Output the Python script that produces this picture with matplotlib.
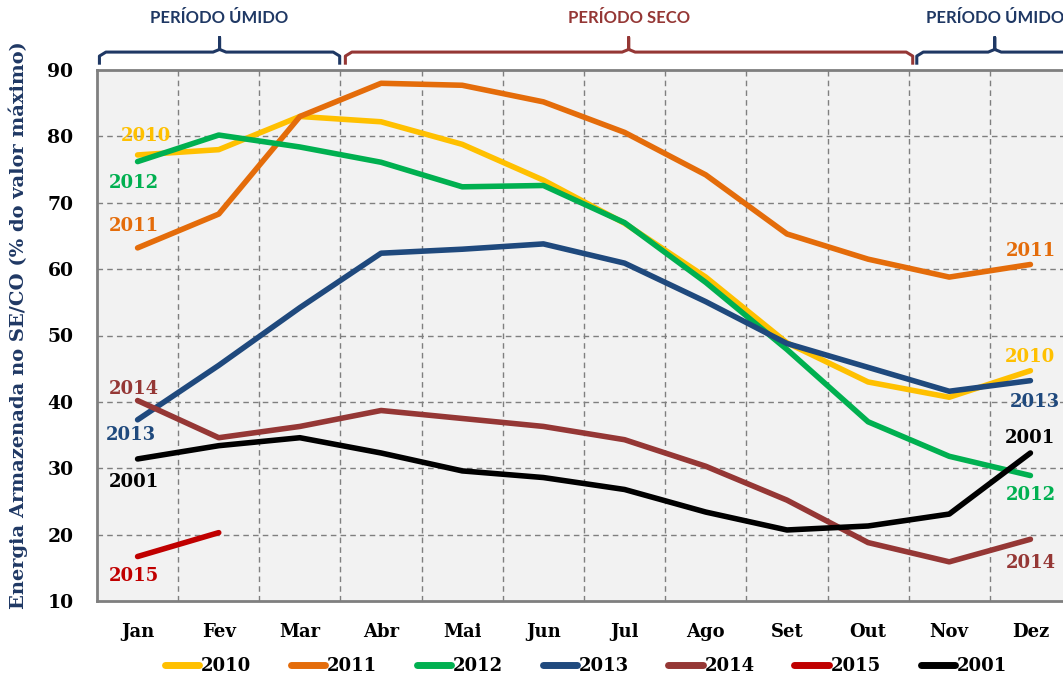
import matplotlib
matplotlib.use("Agg")
import matplotlib.pyplot as plt
from matplotlib.lines import Line2D

meses = ["Jan", "Fev", "Mar", "Abr", "Mai", "Jun", "Jul", "Ago", "Set", "Out", "Nov", "Dez"]

v2010 = [77.2, 78.0, 83.0, 82.2, 78.8, 73.4, 66.9, 58.8, 48.9, 43.0, 40.7, 44.7]
v2011 = [63.2, 68.3, 83.0, 88.0, 87.7, 85.2, 80.6, 74.2, 65.3, 61.5, 58.8, 60.7]
v2012 = [76.2, 80.2, 78.4, 76.1, 72.4, 72.6, 67.0, 58.0, 47.9, 37.0, 31.8, 28.9]
v2013 = [37.3, 45.5, 54.2, 62.4, 63.0, 63.8, 60.9, 55.1, 48.8, 45.2, 41.6, 43.2]
v2014 = [40.2, 34.6, 36.3, 38.7, 37.5, 36.3, 34.3, 30.3, 25.2, 18.8, 15.9, 19.3]
v2015 = [16.7, 20.3]
v2001 = [31.4, 33.4, 34.6, 32.3, 29.6, 28.6, 26.8, 23.4, 20.7, 21.3, 23.1, 32.3]

anos = ["2010", "2011", "2012", "2013", "2014", "2015", "2001"]
series = [v2010, v2011, v2012, v2013, v2014, v2015, v2001]
cores = ["#FFC000", "#E46C0A", "#00B050", "#1F497D", "#953735", "#C00000", "#000000"]

# label positions (month index, value) near start and end of each line
rotulos_ini = {"2010": (0.1, 80.0), "2012": (-0.05, 73.0), "2011": (-0.05, 66.5),
               "2014": (-0.05, 42.0), "2013": (-0.08, 35.0), "2001": (-0.05, 28.0),
               "2015": (-0.05, 13.7)}
rotulos_fim = {"2011": (11.0, 62.7), "2010": (11.0, 46.7), "2013": (11.05, 40.0),
               "2001": (11.0, 34.5), "2012": (11.0, 26.0), "2014": (11.0, 15.8)}

serif = ["DejaVu Serif"]
azul = "#1F3864"
vermelho = "#953735"

fig = plt.figure(figsize=(10.63, 6.74), dpi=100)
ax = fig.add_axes([97 / 1063, 73 / 674, 974 / 1063, 531 / 674])
ax.set_facecolor("#F2F2F2")

x = list(range(12))
for ano, vals, cor in zip(anos, series, cores):
    ax.plot(x[:len(vals)], vals, color=cor, lw=4, solid_capstyle="round", label=ano, zorder=3)

for ano, (px, py) in rotulos_ini.items():
    ax.text(px, py, ano, color=cores[anos.index(ano)], ha="center", va="center",
            fontsize=13, fontweight="bold", family=serif, zorder=4)
for ano, (px, py) in rotulos_fim.items():
    ax.text(px, py, ano, color=cores[anos.index(ano)], ha="center", va="center",
            fontsize=13, fontweight="bold", family=serif, zorder=4)

ax.set_xlim(-0.5, 11.5)
ax.set_ylim(10, 90)
ax.set_xticks(x)
ax.set_xticklabels(meses, fontsize=13, fontweight="bold", family=serif)
ax.set_yticks(range(10, 91, 10))
ax.set_yticklabels([str(v) for v in range(10, 91, 10)], fontsize=13.5, fontweight="bold", family=serif)
ax.tick_params(axis="x", length=0, pad=16)
ax.tick_params(axis="y", length=0, pad=17)

for xv in [i + 0.5 for i in range(11)]:
    ax.axvline(xv, color="#7F7F7F", lw=1, ls=(0, (4, 3)), zorder=1)
for yv in range(20, 90, 10):
    ax.axhline(yv, color="#7F7F7F", lw=1, ls=(0, (4, 3)), zorder=1)

for s in ["left", "bottom", "top"]:
    ax.spines[s].set_color("#7F7F7F")
    ax.spines[s].set_linewidth(2)
ax.spines["right"].set_visible(False)

ax.set_ylabel("Energia Armazenada no SE/CO (% do valor máximo)", fontsize=14,
              fontweight="bold", family=serif, color=azul, labelpad=14, y=0.52)


def chave(x0, x1, xc, cor, texto):
    y_lin, y_pe, y_top = 92.7, 90.8, 94.9
    d = 0.08
    kw = dict(color=cor, lw=2.2, clip_on=False, solid_capstyle="butt", zorder=5)
    ax.plot([x0, x0, x0 + d, xc - d, xc, xc, xc, xc + d, x1 - d, x1, x1],
            [y_pe, y_lin - 0.6, y_lin, y_lin, y_lin + 0.4, y_top, y_lin + 0.4, y_lin, y_lin, y_lin - 0.6, y_pe],
            **kw)
    ax.text(xc, 97.8, texto, color=cor, ha="center", va="center", fontsize=12,
            fontweight="bold", family=["Lato", "DejaVu Sans"], clip_on=False)


chave(-0.47, 2.49, 1.01, azul, "PERÍODO ÚMIDO")
chave(2.56, 9.55, 6.05, vermelho, "PERÍODO SECO")
chave(9.6, 11.6, 10.56, azul, "PERÍODO ÚMIDO")

handles = [Line2D([0], [0], color=c, lw=5, solid_capstyle="round") for c in cores]
leg = fig.legend(handles, anos, loc="center", bbox_to_anchor=(0.551, 0.012), ncol=7,
                 frameon=False, handlelength=1.9, handletextpad=0.1, columnspacing=2.2,
                 prop={"family": serif, "weight": "bold", "size": 13})

fig.savefig("out.png", dpi=100)
